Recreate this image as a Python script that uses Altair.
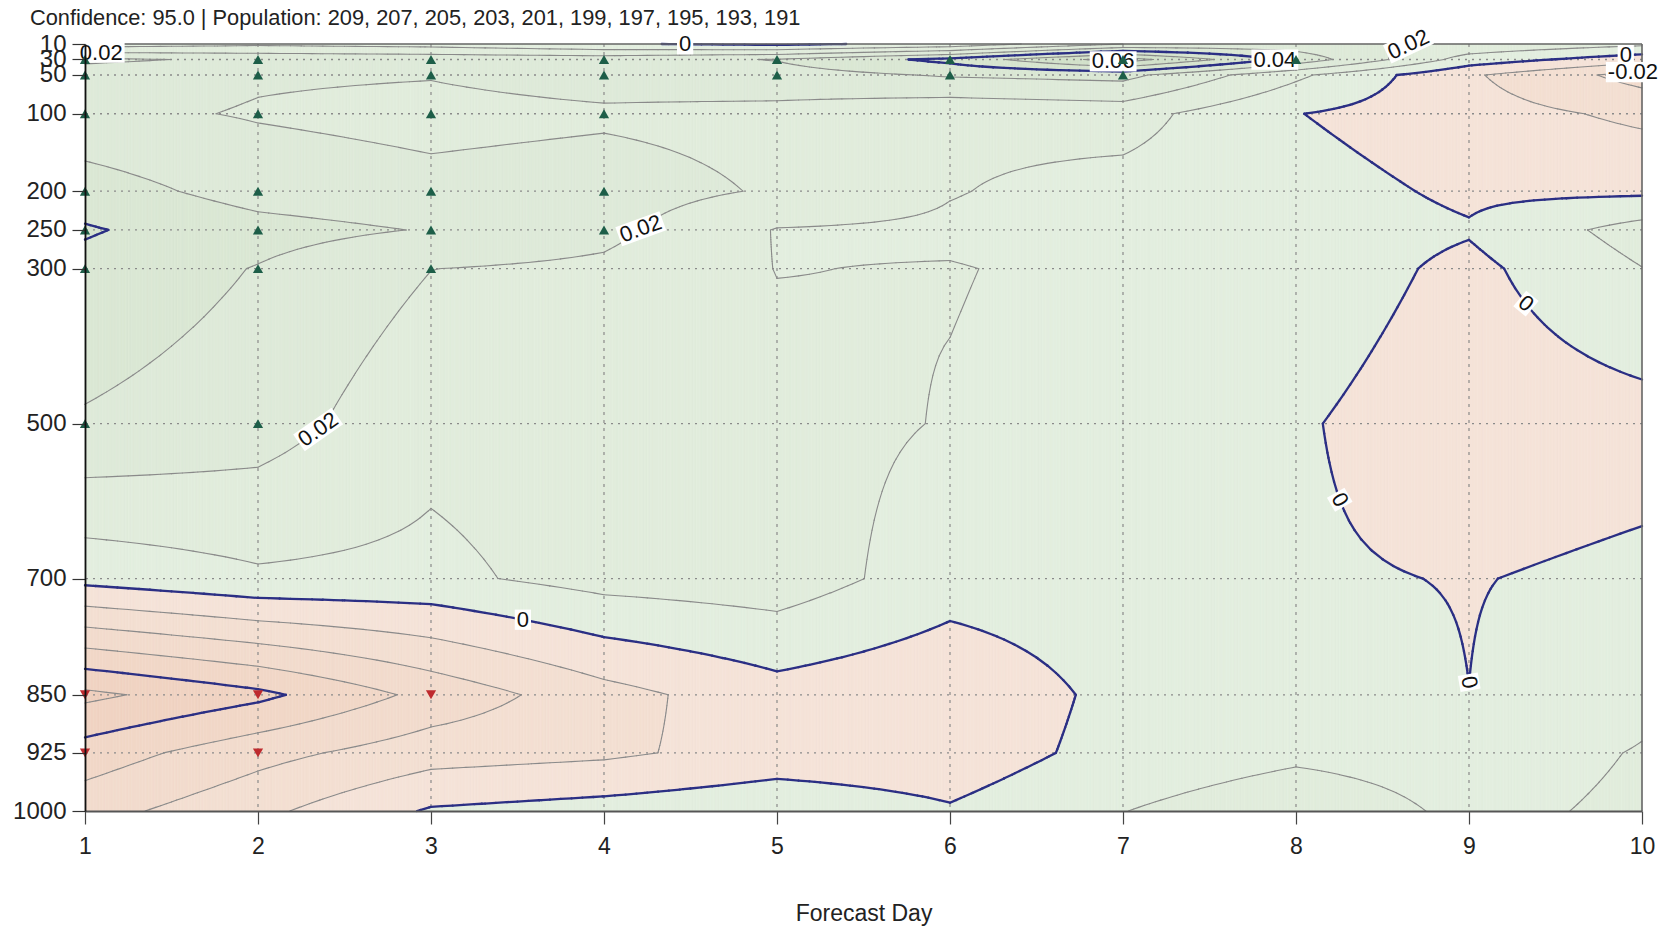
import numpy as np
import pandas as pd
import altair as alt

# ---------------------------------------------------------------------------
# Verification grid: forecast days x pressure levels (hPa)
# ---------------------------------------------------------------------------
DAYS = [1, 2, 3, 4, 5, 6, 7, 8, 9, 10]
LEVELS = [10, 30, 50, 100, 200, 250, 300, 500, 700, 850, 925, 1000]

# Score difference at each pressure level, one value per forecast day
DIFF_10 = [0.005, 0.008, 0.006, 0.001, -0.002, 0.003, 0.020, 0.024, 0.018, 0.012]
DIFF_30 = [0.032, 0.028, 0.027, 0.026, 0.0305, 0.043, 0.065, 0.0366, 0.0055, -0.006]
DIFF_50 = [0.025, 0.0211, 0.0205, 0.024, 0.026, 0.031, 0.033, 0.012, -0.0086, -0.024]
DIFF_100 = [0.0225, 0.0192, 0.017, 0.0185, 0.017, 0.012, 0.014, 0.0003, -0.006, -0.012]
DIFF_200 = [0.0348, 0.0259, 0.0228, 0.0245, 0.0189, 0.0105, 0.0065, 0.004, -0.0018, -0.0019]
DIFF_250 = [0.041, 0.0336, 0.0294, 0.0227, 0.0095, 0.0085, 0.0065, 0.005, 0.00086, 0.0142]
DIFF_300 = [0.037, 0.0295, 0.0201, 0.018, 0.0098, 0.0104, 0.008, 0.006, -0.0025, 0.0098]
DIFF_500 = [0.029, 0.0245, 0.0129, 0.015, 0.013, 0.0095, 0.007, 0.0011, -0.006, -0.0039]
DIFF_700 = [0.0032, 0.0085, 0.0076, 0.0138, 0.0155, 0.0046, 0.006, 0.0011, -0.0004, 0.002]
DIFF_850 = [-0.0524, -0.0425, -0.027, -0.0136, -0.0039, -0.008, 0.003, 0.006, 0.00004, 0.008]
DIFF_925 = [-0.0355, -0.0234, -0.0144, -0.0119, -0.0058, -0.006, 0.0038, 0.008, 0.006, 0.0105]
DIFF_1000 = [-0.024, -0.0125, 0.0011, 0.004, 0.0072, 0.001, 0.0098, 0.0163, 0.0079, 0.0115]

# Points where the difference is significant
SIG_UP_DAY = [1, 1, 1, 1, 1, 1, 1, 2, 2, 2, 2, 2, 2, 2, 3, 3, 3, 3, 3, 3,
              4, 4, 4, 4, 4, 5, 5, 6, 6, 7, 7, 8]
SIG_UP_HPA = [30, 50, 100, 200, 250, 300, 500, 30, 50, 100, 200, 250, 300, 500,
              30, 50, 100, 200, 250, 300, 30, 50, 100, 200, 250, 30, 50, 30, 50, 30, 50, 30]
SIG_DOWN_DAY = [1, 1, 2, 2, 3]
SIG_DOWN_HPA = [850, 925, 850, 925, 850]

# Contour labels: text, approximate anchor (day, hPa) and rotation
LABEL_TEXT = ["0.02", "0", "0.06", "0.04", "0.02", "0", "-0.02",
              "0.02", "0.02", "0", "0", "0", "0"]
LABEL_DAY = [1.09, 4.49, 6.93, 7.97, 8.72, 9.9, 9.95, 4.26, 2.38, 3.5, 9.35, 8.32, 9.0]
LABEL_HPA = [19.6, 12.7, 34.7, 30.6, 18.2, 22.4, 41.6, 264, 510, 753, 345, 595, 846]
LABEL_ANGLE = [0, 0, 0, 0, 335, 0, 0, 340, 325, 0, 40, 60, 80]

TITLE = ("Confidence: 95.0 | Population: 209, 207, 205, 203, 201, 199, 197, "
         "195, 193, 191")

CONTOUR_STEP = 0.01
CONTOUR_LEVELS = [round(k * CONTOUR_STEP, 2) for k in range(-6, 8)]
BOLD_LEVELS = [-0.04, 0.0, 0.04]

BAND_COLOURS = {
    -6: "#EFCFBD", -5: "#F0D3C2", -4: "#F1D7C7", -3: "#F2DBCD",
    -2: "#F3DFD2", -1: "#F5E3D8",
    0: "#E3EEDF", 1: "#E1ECDC", 2: "#DEEAD9", 3: "#DAE7D4",
    4: "#D6E4CF", 5: "#D2E1CA", 6: "#CDDEC5",
}

FONT = "Liberation Sans"
W, H = 1557, 767

GRID = np.array([DIFF_10, DIFF_30, DIFF_50, DIFF_100, DIFF_200, DIFF_250,
                 DIFF_300, DIFF_500, DIFF_700, DIFF_850, DIFF_925, DIFF_1000])


def refine(coords, n):
    out = []
    for a, b in zip(coords[:-1], coords[1:]):
        out.extend(np.linspace(a, b, n, endpoint=False))
    out.append(coords[-1])
    return np.array(out, dtype=float)


def column_values(x):
    """Values down one vertical line (bilinear field is linear in x per row)."""
    return np.array([np.interp(x, DAYS, row) for row in GRID])


# ---------------------------------------------------------------------------
# Filled bands: vertical strips split where the field crosses a contour level
# ---------------------------------------------------------------------------
all_levels = [round(k * CONTOUR_STEP, 2) for k in range(-12, 13)]
edges = refine(DAYS, 60)
rect_rows = []
for e0, e1 in zip(edges[:-1], edges[1:]):
    col = column_values(0.5 * (e0 + e1))
    bps = [LEVELS[0]]
    for k in range(len(LEVELS) - 1):
        a, b = col[k], col[k + 1]
        pa, pb = LEVELS[k], LEVELS[k + 1]
        lo, hi = min(a, b), max(a, b)
        ts = sorted((lv - a) / (b - a) for lv in all_levels if lo < lv < hi)
        bps.extend(pa + t * (pb - pa) for t in ts)
        bps.append(pb)
    runs = []
    for p0, p1 in zip(bps[:-1], bps[1:]):
        if p1 - p0 <= 1e-9:
            continue
        v = np.interp(0.5 * (p0 + p1), LEVELS, col)
        band = int(np.clip(np.floor(v / CONTOUR_STEP + 1e-9), -6, 6))
        if runs and runs[-1][2] == band:
            runs[-1][1] = p1
        else:
            runs.append([p0, p1, band])
    for p0, p1, band in runs:
        rect_rows.append({"x": round(float(e0), 4), "x2": round(float(e1), 4),
                          "p": round(float(p0), 3), "p2": round(float(p1), 3),
                          "fill": BAND_COLOURS[band]})
rects = pd.DataFrame(rect_rows)

# ---------------------------------------------------------------------------
# Contour lines: marching squares on a refined bilinear grid
# ---------------------------------------------------------------------------
xs = refine(DAYS, 16)
ps = refine(LEVELS, 16)
row_fine = np.array([np.interp(xs, DAYS, row) for row in GRID])
Z = np.array([np.interp(ps, LEVELS, row_fine[:, j]) for j in range(len(xs))]).T


def contour_segments(level):
    out = []
    above = Z >= level
    a00, a01 = above[:-1, :-1], above[:-1, 1:]
    a10, a11 = above[1:, :-1], above[1:, 1:]
    mixed = ~((a00 == a01) & (a00 == a10) & (a00 == a11))
    for i, j in zip(*np.nonzero(mixed)):
        v00, v01, v10, v11 = Z[i, j], Z[i, j + 1], Z[i + 1, j], Z[i + 1, j + 1]
        x0, x1, p0, p1 = xs[j], xs[j + 1], ps[i], ps[i + 1]
        pts = {}
        if (v00 >= level) != (v01 >= level):
            t = (level - v00) / (v01 - v00)
            pts["top"] = (x0 + t * (x1 - x0), p0)
        if (v01 >= level) != (v11 >= level):
            t = (level - v01) / (v11 - v01)
            pts["right"] = (x1, p0 + t * (p1 - p0))
        if (v10 >= level) != (v11 >= level):
            t = (level - v10) / (v11 - v10)
            pts["bottom"] = (x0 + t * (x1 - x0), p1)
        if (v00 >= level) != (v10 >= level):
            t = (level - v00) / (v10 - v00)
            pts["left"] = (x0, p0 + t * (p1 - p0))
        if len(pts) == 2:
            a, b = list(pts.values())
            out.append((a, b))
        elif len(pts) == 4:
            centre = 0.25 * (v00 + v01 + v10 + v11)
            if (centre >= level) == (v00 >= level):
                out += [(pts["top"], pts["right"]), (pts["bottom"], pts["left"])]
            else:
                out += [(pts["top"], pts["left"]), (pts["bottom"], pts["right"])]
    return out


seg_rows = []
for lv in CONTOUR_LEVELS:
    bold = any(np.isclose(lv, b) for b in BOLD_LEVELS)
    for (xa, pa), (xb, pb) in contour_segments(lv):
        seg_rows.append({"x": round(float(xa), 4), "p": round(float(pa), 3),
                         "x2": round(float(xb), 4), "p2": round(float(pb), 3),
                         "level": lv, "bold": bold})
segs = pd.DataFrame(seg_rows)


# ---------------------------------------------------------------------------
# Contour labels snapped onto their own contour
# ---------------------------------------------------------------------------
def to_px(day, p):
    return ((day - DAYS[0]) / (DAYS[-1] - DAYS[0]) * W,
            (p - LEVELS[0]) / (LEVELS[-1] - LEVELS[0]) * H)


def snap(text, day, p):
    lv = float(text)
    cand = segs[np.isclose(segs["level"], lv)]
    tx, ty = to_px(day, p)
    best, best_d = (day, p), 1e9
    for r in cand.itertuples():
        mx, mp = 0.5 * (r.x + r.x2), 0.5 * (r.p + r.p2)
        qx, qy = to_px(mx, mp)
        d = (qx - tx) ** 2 + (qy - ty) ** 2
        if d < best_d:
            best, best_d = (mx, mp), d
    return best if best_d < 30 ** 2 else (day, p)


LABEL_FONT_SIZE = 22
label_rows = []
for text, d, p, ang in zip(LABEL_TEXT, LABEL_DAY, LABEL_HPA, LABEL_ANGLE):
    sd, sp = snap(text, d, p)
    em = sum(0.556 if c.isdigit() else (0.333 if c == "-" else 0.278) for c in text)
    bw = em * LABEL_FONT_SIZE + 4
    bh = LABEL_FONT_SIZE * 0.92
    h = bh / bw
    label_rows.append({"x": sd, "p": sp, "text": text, "angle": ang,
                       "box": f"M-1,{-h:.3f}L1,{-h:.3f}L1,{h:.3f}L-1,{h:.3f}Z",
                       "boxsize": bw * bw})
labels = pd.DataFrame(label_rows)

# ---------------------------------------------------------------------------
# Encodings shared by every layer
# ---------------------------------------------------------------------------
x_scale = alt.Scale(domain=[DAYS[0], DAYS[-1]], nice=False, zero=False)
y_scale = alt.Scale(domain=[LEVELS[0], LEVELS[-1]], reverse=True, nice=False, zero=False)

x_axis = alt.Axis(values=DAYS, format="d", grid=False, zindex=1, labelFlush=False,
                  domainColor="#555555", domainWidth=2, tickColor="#444444",
                  tickSize=13, tickWidth=1.2, labelFont=FONT, labelFontSize=23,
                  labelColor="#222222", labelPadding=11, title="Forecast Day",
                  titleFont=FONT, titleFontSize=23, titleFontWeight="normal",
                  titleColor="#222222", titlePadding=44)
y_axis = alt.Axis(values=LEVELS, format="d", grid=False, zindex=1, labelOverlap=False,
                  domainColor="#111111", domainWidth=1.8, tickColor="#333333",
                  tickSize=13, tickWidth=1.2, labelFont=FONT, labelFontSize=24,
                  labelColor="#222222", labelPadding=6, title="")


def X(field="x"):
    return alt.X(f"{field}:Q", scale=x_scale, axis=x_axis)


def Y(field="p"):
    return alt.Y(f"{field}:Q", scale=y_scale, axis=y_axis)


fill = alt.Chart(rects).mark_rect(strokeWidth=0.6).encode(
    x=X(), x2="x2:Q", y=Y(), y2="p2:Q",
    fill=alt.Fill("fill:N", scale=None),
    stroke=alt.Stroke("fill:N", scale=None),
)

grid_v = alt.Chart(pd.DataFrame({"x": DAYS[1:-1]})).mark_rule(
    color="#8a8a8a", strokeDash=[3, 5], strokeWidth=1.2).encode(x=X())
grid_h = alt.Chart(pd.DataFrame({"p": LEVELS[1:-1]})).mark_rule(
    color="#8a8a8a", strokeDash=[2, 5], strokeWidth=1.3).encode(y=Y())

thin = alt.Chart(segs[~segs["bold"]]).mark_rule(
    color="#8a8a8a", strokeWidth=1.1, strokeCap="round").encode(
    x=X(), x2="x2:Q", y=Y(), y2="p2:Q")
bold = alt.Chart(segs[segs["bold"]]).mark_rule(
    color="#2B2F84", strokeWidth=2.3, strokeCap="round").encode(
    x=X(), x2="x2:Q", y=Y(), y2="p2:Q")

frame_top = alt.Chart(pd.DataFrame({"p": [LEVELS[0]]})).mark_rule(
    color="#666666", strokeWidth=1.6).encode(y=Y())
frame_right = alt.Chart(pd.DataFrame({"x": [DAYS[-1]]})).mark_rule(
    color="#666666", strokeWidth=1.6).encode(x=X())

label_box = alt.Chart(labels).mark_point(filled=True, fill="white", opacity=1,
                                         strokeWidth=0).encode(
    x=X(), y=Y(),
    shape=alt.Shape("box:N", scale=None),
    size=alt.Size("boxsize:Q", scale=None),
    angle=alt.Angle("angle:Q", scale=None),
)
label_text = alt.Chart(labels).mark_text(font=FONT, fontSize=LABEL_FONT_SIZE,
                                         color="#111111", baseline="middle",
                                         align="center").encode(
    x=X(), y=Y(), text="text:N", angle=alt.Angle("angle:Q", scale=None))

sig_up = alt.Chart(pd.DataFrame({"x": SIG_UP_DAY, "p": SIG_UP_HPA})).mark_point(
    shape="triangle-up", filled=True, size=105, color="#1D5E48", opacity=1).encode(
    x=X(), y=Y())
sig_down = alt.Chart(pd.DataFrame({"x": SIG_DOWN_DAY, "p": SIG_DOWN_HPA})).mark_point(
    shape="triangle-down", filled=True, size=105, color="#BE2A2E", opacity=1).encode(
    x=X(), y=Y())

chart = alt.layer(
    fill, grid_v, grid_h, thin, bold, frame_top, frame_right,
    label_box, label_text, sig_up, sig_down,
).properties(
    width=W, height=H,
    autosize=alt.AutoSizeParams(type="none"),
    padding={"left": 85, "top": 44, "right": 1669 - 85 - W, "bottom": 926 - 44 - H},
    title=alt.TitleParams(text=TITLE, anchor="start", frame="group", dx=-55,
                          offset=8, dy=29, baseline="alphabetic", font=FONT,
                          fontSize=21.8, fontWeight="normal", color="#222222"),
).configure_view(strokeWidth=0)

chart.save("out.html", embed_options={"renderer": "svg", "actions": False})
